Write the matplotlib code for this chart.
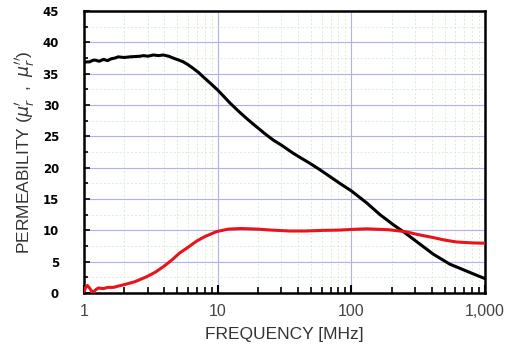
import numpy as np
import matplotlib
matplotlib.use("Agg")
import matplotlib.pyplot as plt
from matplotlib.ticker import FixedLocator, NullFormatter, MultipleLocator

# mu' (black)
f_real = [1.0, 1.05, 1.1, 1.15, 1.2, 1.3, 1.4, 1.5, 1.6, 1.7, 1.8, 2.0, 2.2,
          2.62, 2.8, 3.0, 3.3, 3.6, 3.92, 4.3, 4.66, 5.1, 5.53, 6.0, 6.57, 7.2,
          7.8, 8.8, 10, 11.2, 12.4, 14.7, 17, 19.6, 22.5, 26.1, 30, 36.8, 42,
          49, 58, 69, 82, 100, 130, 164, 206, 252, 326, 410, 546, 728, 850, 1000]
mu_real = [36.8, 36.9, 36.9, 37.1, 37.2, 37.0, 37.3, 37.1, 37.4, 37.5, 37.7, 37.6,
           37.7, 37.8, 37.9, 37.8, 38.0, 37.9, 38.0, 37.8, 37.5, 37.2, 36.9, 36.45,
           35.85, 35.2, 34.5, 33.5, 32.4, 31.3, 30.3, 28.8, 27.6, 26.5, 25.45,
           24.4, 23.6, 22.3, 21.55, 20.7, 19.7, 18.6, 17.5, 16.3, 14.4, 12.5,
           10.9, 9.6, 7.8, 6.2, 4.6, 3.5, 2.9, 2.3]

# mu'' (red)
f_imag = [1.0, 1.03, 1.06, 1.1, 1.14, 1.17, 1.22, 1.28, 1.4, 1.5, 1.66, 1.8, 1.97,
          2.4, 2.94, 3.4, 3.92, 4.5, 5.2, 6.0, 6.97, 8.0, 9.8, 12, 15, 20, 25,
          34.7, 45, 61.7, 82, 100, 130, 190, 252, 320, 410, 500, 612, 800, 1000]
mu_imag = [0.3, 0.9, 1.2, 0.8, 0.3, 0.1, 0.5, 0.8, 0.7, 0.9, 0.9, 1.1, 1.3,
           1.8, 2.6, 3.3, 4.2, 5.2, 6.4, 7.3, 8.3, 9.0, 9.8, 10.2, 10.3, 10.2, 10.05,
           9.9, 9.9, 10.0, 10.05, 10.15, 10.25, 10.1, 9.8, 9.3, 8.85, 8.45, 8.15,
           8.0, 7.95]

fig = plt.figure(figsize=(5.07, 3.48), dpi=100)
ax = fig.add_axes([0.1657, 0.158, 0.791, 0.81])

ax.plot(f_real, mu_real, color='black', lw=2.2, zorder=3)
ax.plot(f_imag, mu_imag, color='#e8141a', lw=2.2, zorder=3)

ax.set_xscale('log')
ax.set_xlim(1, 1000)
ax.set_ylim(0, 45)

ax.xaxis.set_major_locator(FixedLocator([1, 10, 100, 1000]))
minors = [m * d for d in [1, 10, 100] for m in range(2, 10)]
ax.xaxis.set_minor_locator(FixedLocator(minors))
ax.xaxis.set_minor_formatter(NullFormatter())
ax.set_xticklabels(['1', '10', '100', '1,000'], fontfamily='Liberation Sans')
ax.yaxis.set_major_locator(MultipleLocator(5))
ax.yaxis.set_minor_locator(MultipleLocator(2.5))

ax.grid(which='major', color='#b0b0f0', lw=0.8)
ax.grid(which='minor', color='#d6efd6', lw=0.7, ls=(0, (2, 2)))
ax.set_axisbelow(True)

for s in ax.spines.values():
    s.set_linewidth(1.8)

ax.tick_params(axis='x', which='major', direction='in', length=6, width=1.5,
               labelsize=11.5, labelcolor='#444444', pad=8, top=False)
ax.tick_params(axis='x', which='minor', direction='in', length=4, width=1.2, top=False)
ax.tick_params(axis='y', which='major', direction='in', length=4, width=1.2,
               labelsize=8.5, pad=18, right=False)
ax.tick_params(axis='y', which='minor', direction='in', length=3, width=1.2, right=False)
for lbl in ax.get_yticklabels():
    lbl.set_fontweight('bold')

ax.set_xlabel('FREQUENCY [MHz]', fontsize=12.5, color='#333333', labelpad=6,
              fontfamily='Liberation Sans')
ax.set_ylabel(r"PERMEABILITY ($\mu_r^{\prime}$  ,  $\mu_r^{\prime\prime}$)",
              fontsize=12.5, color='#333333', labelpad=4, fontfamily='Liberation Sans')

fig.savefig('out.png', dpi=100)
